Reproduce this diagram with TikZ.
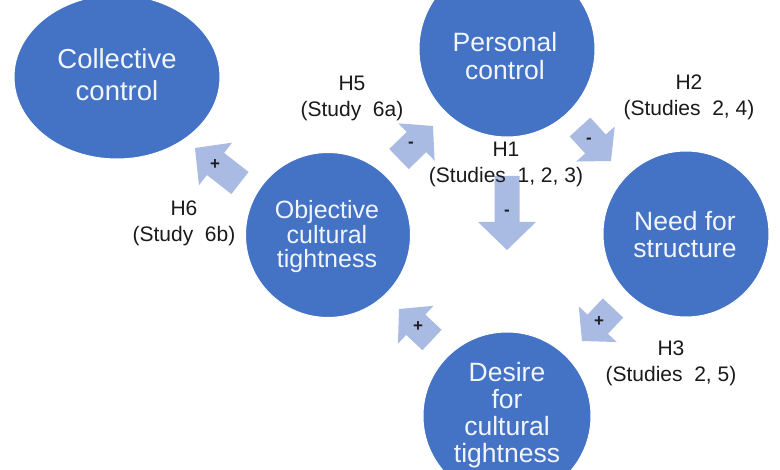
\documentclass[tikz,border=0pt]{standalone}
\usepackage{fontspec}
\setmainfont{Liberation Sans}
\usetikzlibrary{calc,shapes.geometric}
\definecolor{bub}{HTML}{4472C4}
\definecolor{arrc}{HTML}{A9BBE2}
\definecolor{signc}{HTML}{1E1E1E}
\definecolor{labc}{HTML}{1A1A1A}
\definecolor{btc}{HTML}{F2F5FB}
% #1 tail, #2 tip, #3 shaft half width, #4 head half width, #5 head length
\newcommand{\blockarr}[5]{%
  \coordinate (tmpB) at ($(#2)!#5!(#1)$);
  \fill[arrc] ($(#1)!#3!90:(#2)$) -- ($(tmpB)!#3!90:(#2)$) -- ($(tmpB)!#4!90:(#2)$)
    -- (#2) -- ($(tmpB)!#4!-90:(#2)$) -- ($(tmpB)!#3!-90:(#2)$) -- ($(#1)!#3!-90:(#2)$) -- cycle;
}
\begin{document}
\begin{tikzpicture}[x=1pt,y=-1pt,
  bubble/.style={circle, fill=bub, draw=white, line width=1pt, inner sep=0pt},
  bubbleell/.style={ellipse, fill=bub, draw=white, line width=1pt, inner sep=0pt},
  btext/.style={text=btc, align=center, inner sep=0pt},
  lab/.style={text=labc, align=center, inner sep=0pt, font=\fontsize{21}{26}\selectfont},
  sign/.style={text=signc, inner sep=0pt, font=\fontsize{17}{17}\selectfont\bfseries}]
\useasboundingbox (0,0) rectangle (780,470);
\clip (0,0) rectangle (780,470);
\fill[white] (0,0) rectangle (780,470);

% circles
\node[bubbleell, minimum width=206pt, minimum height=164pt] (cc) at (117,77) {};
\node[bubble, minimum size=176pt] (pc) at (507,49) {};
\node[bubble, minimum size=166pt] (nfs) at (686,234) {};
\node[bubble, minimum size=165pt] (oct) at (328,235) {};
\node[bubble, minimum size=168pt] (dct) at (507,416) {};

% circle texts
\node[btext, font=\fontsize{27.5}{32}\selectfont] (cctext) at (117,74.5) {Collective\\control};
\node[btext, font=\fontsize{26.5}{28}\selectfont] (pctext) at (505,56) {Personal\\control};
\node[btext, font=\fontsize{26.5}{27}\selectfont] (nfstext) at (685,234.5) {Need for\\structure};
\node[btext, font=\fontsize{25}{24.5}\selectfont] (octtext) at (327,237) {Objective\\cultural\\tightness};
\node[btext, font=\fontsize{26.5}{27}\selectfont] (dcttext) at (507,415) {Desire\\for\\cultural\\tightness};

% arrow end points
\coordinate (a1t) at (507,176);
\coordinate (a1h) at (507,250);
\coordinate (a2t) at (580,127);
\coordinate (a2h) at (611,161);
\coordinate (a3t) at (613,308);
\coordinate (a3h) at (582,341);
\coordinate (a4t) at (432,340);
\coordinate (a4h) at (399,309);
\coordinate (a5t) at (399,159);
\coordinate (a5h) at (433,126);
\coordinate (a6t) at (240,183);
\coordinate (a6h) at (195,148);

% block arrows
\blockarr{a1t}{a1h}{12.5pt}{29pt}{28pt}
\blockarr{a2t}{a2h}{14pt}{26pt}{23pt}
\blockarr{a3t}{a3h}{14pt}{26pt}{23pt}
\blockarr{a4t}{a4h}{14pt}{26pt}{23pt}
\blockarr{a5t}{a5h}{14pt}{26pt}{23pt}
\blockarr{a6t}{a6h}{14pt}{27pt}{26pt}

% signs
\node[sign] (s1) at (507,213) {-};
\node[sign] (s2) at (589,141) {-};
\node[sign] (s3) at (599,322) {+};
\node[sign] (s4) at (418,327) {+};
\node[sign] (s5) at (411,145) {-};
\node[sign] (s6) at (215,165) {+};

% labels
\node[lab] (l5) at (352,98) {H5\\(Study~ 6a)};
\node[lab] (l1) at (506,164) {H1\\(Studies~ 1, 2, 3)};
\node[lab] (l2) at (689,97) {H2\\(Studies~ 2, 4)};
\node[lab] (l6) at (184,223) {H6\\(Study~ 6b)};
\node[lab] (l3) at (671,363) {H3\\(Studies~ 2, 5)};
\end{tikzpicture}
\end{document}
